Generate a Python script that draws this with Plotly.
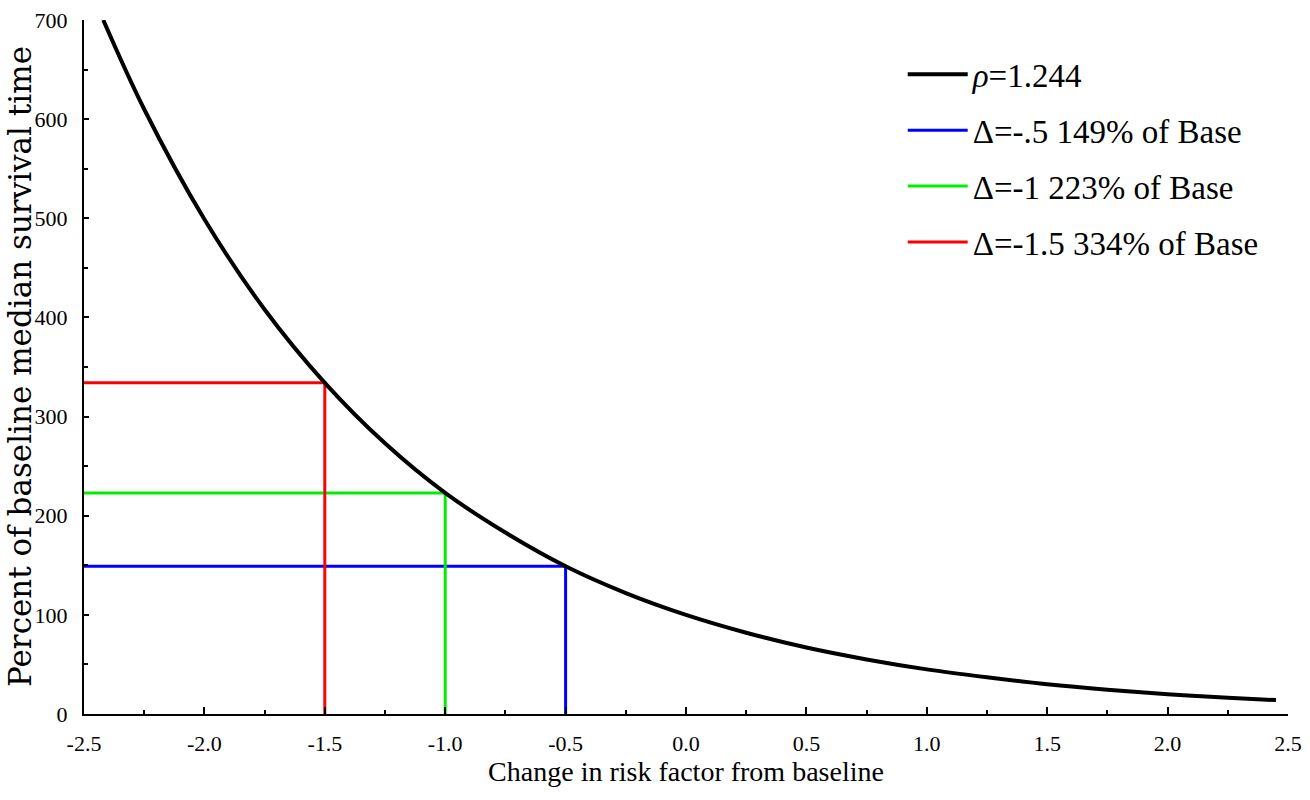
import plotly.graph_objects as go

# Median survival time relative to baseline (%) along the change in risk factor
risk_change = [-2.42, -2.25, -2.0, -1.75, -1.5, -1.25, -1.0, -0.75, -0.5, -0.25,
               0.0, 0.25, 0.5, 0.75, 1.0, 1.25, 1.5, 1.75, 2.0, 2.25, 2.45]
pct_baseline = [700, 610, 499, 408, 334, 273, 223, 183, 149, 122,
                100, 82, 67, 55, 45, 37, 30, 24.5, 20, 16.4, 14]

# Highlighted changes and their resulting percentages
deltas = [-0.5, -1.0, -1.5]
delta_pct = [149, 223, 334]
delta_names = ["Δ=-.5 149% of Base", "Δ=-1 223% of Base", "Δ=-1.5 334% of Base"]
delta_colors = ["#0000ff", "#00ee00", "#ff0000"]

curve_name = "<i>ρ</i>=1.244"

x_ticks = [-2.5, -2.0, -1.5, -1.0, -0.5, 0.0, 0.5, 1.0, 1.5, 2.0, 2.5]
x_ticktext = ["-2.5", "-2.0", "-1.5", "-1.0", "-0.5", "0.0", "0.5", "1.0", "1.5", "2.0", "2.5"]
y_ticks = [0, 100, 200, 300, 400, 500, 600, 700]

x_title = "Change in risk factor from baseline"
y_title = "Percent of baseline median survival time"

X_MIN = -2.5
FONT = "Liberation Serif"
WIDE_FONT = "DejaVu Serif"

fig = go.Figure()

for i, (d, p, name, col) in enumerate(zip(deltas, delta_pct, delta_names, delta_colors)):
    fig.add_trace(go.Scatter(
        x=[X_MIN, d, d], y=[p, p, 0],
        mode="lines", name=name,
        line=dict(color=col, width=3),
        legendrank=i + 2, legendgroup=name,
        hoverinfo="skip",
    ))

fig.add_trace(go.Scatter(
    x=risk_change, y=pct_baseline,
    mode="lines", name=curve_name,
    line=dict(color="black", width=4, shape="spline", smoothing=1.0),
    legendrank=1, legendgroup="curve",
))

# vertical axis title, centred on the plotting area
fig.add_annotation(
    text=y_title, textangle=-90,
    xref="paper", yref="paper", x=0, y=0.5,
    xanchor="center", yanchor="middle", xshift=-64,
    showarrow=False, font=dict(family=WIDE_FONT, size=31, color="black"),
)

fig.update_layout(
    width=1310, height=800,
    margin=dict(l=84, r=22, t=20, b=86, autoexpand=False),
    paper_bgcolor="white", plot_bgcolor="white",
    font=dict(family=FONT, color="black", size=22),
    legend=dict(
        x=0.68, y=0.962, xanchor="left", yanchor="top",
        font=dict(family=FONT, size=33),
        itemwidth=60, tracegroupgap=10,
        bgcolor="rgba(0,0,0,0)",
    ),
    xaxis=dict(
        range=[-2.5, 2.5], automargin=False,
        tickvals=x_ticks, ticktext=x_ticktext,
        ticks="inside", ticklen=7, tickwidth=1.5, tickcolor="black",
        minor=dict(dtick=0.25, ticks="inside", ticklen=4, tickwidth=1.5, tickcolor="black"),
        showline=True, linecolor="black", linewidth=2,
        showgrid=False, zeroline=False,
        ticklabelstandoff=9,
        tickfont=dict(family=FONT, size=22),
        title=dict(text=x_title, font=dict(family=FONT, size=28), standoff=4),
    ),
    yaxis=dict(
        range=[0, 700], automargin=False,
        tickvals=y_ticks,
        ticks="inside", ticklen=5, tickwidth=1.5, tickcolor="black",
        minor=dict(dtick=50, ticks="inside", ticklen=4, tickwidth=1.5, tickcolor="black"),
        showline=True, linecolor="black", linewidth=2,
        showgrid=False, zeroline=False,
        ticklabelstandoff=10,
        tickfont=dict(family=FONT, size=22),
    ),
)

fig.write_html("out.html")
